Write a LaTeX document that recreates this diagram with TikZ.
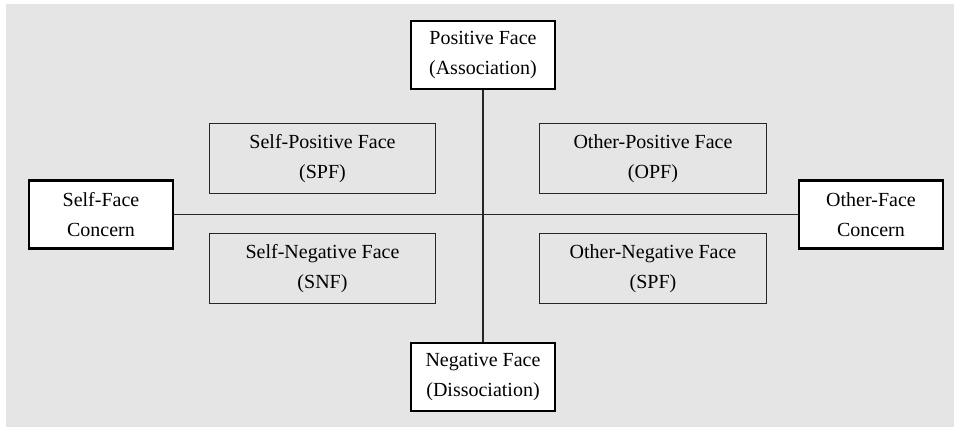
\documentclass[tikz,border=0pt]{standalone}
\usepackage{fontspec}
\setmainfont{Liberation Serif}
\usepackage{xcolor}
\usepackage{tikz}
\definecolor{bgGray}{HTML}{E5E5E5}
\def\outerw{108pt}
\def\innerw{170pt}

\begin{document}
\begin{tikzpicture}[x=0.75pt, y=-0.75pt, font=\fontsize{15}{22.5}\selectfont]
  \tikzstyle{axis box}=[draw=black, line width=1.6pt, fill=white, align=center,
    minimum width=\outerw, minimum height=51pt, inner sep=0pt]
  \tikzstyle{face box}=[draw=black!85, line width=0.8pt, fill=bgGray, align=center,
    minimum width=\innerw, minimum height=52pt, inner sep=0pt]
  \tikzstyle{axis line}=[draw=black!85, line width=0.8pt]

  % Background
  \useasboundingbox (0,0) rectangle (954,427);
  \fill[bgGray] (6,4) rectangle (954,427);

  % Draw the axis boxes
  \node[axis box] (pos) at (483,55) {Positive Face\\(Association)};
  \node[axis box] (neg) at (483,377) {Negative Face\\(Dissociation)};
  \node[axis box] (self) at (101,214.5) {Self-Face\\Concern};
  \node[axis box] (other) at (871,214.5) {Other-Face\\Concern};

  % Connect the axes
  \path[axis line] (pos) -- (neg);
  \path[axis line] (self) -- (other);

  % Draw the four face boxes
  \foreach \name / \x / \y / \txt in {spf/322.5/158.5/{Self-Positive Face\\(SPF)},
      snf/322.5/268.5/{Self-Negative Face\\(SNF)},
      opf/653/158.5/{Other-Positive Face\\(OPF)},
      onf/653/268.5/{Other-Negative Face\\(SPF)}}
    \node[face box] (\name) at (\x,\y) {\txt};
\end{tikzpicture}
\end{document}
